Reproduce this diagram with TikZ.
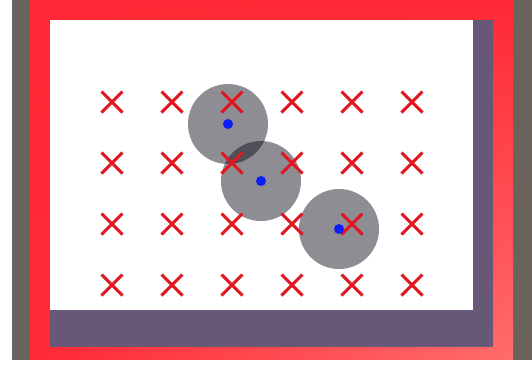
\documentclass[tikz,border=0pt]{standalone}
\usepackage{tikz}
\usetikzlibrary{shapes.misc,shadings}

\definecolor{wallgray}{RGB}{106,99,93}
\definecolor{framered}{RGB}{255,40,52}
\definecolor{framelight}{RGB}{255,108,108}
\definecolor{shadowpurple}{RGB}{102,88,118}
\definecolor{markred}{RGB}{225,22,30}
\definecolor{dotblue}{RGB}{10,30,245}

\begin{document}
\begin{tikzpicture}[
    x=0.02cm,
    y=-0.02cm,
    sample/.style={
        cross out, draw=markred,
        line width=3*0.02cm,
        inner sep=0pt,
        minimum size=18*0.02cm
    },
    blob/.style={
        circle,
        fill={rgb,255:red,8;green,8;blue,20},
        fill opacity=0.46,
        inner sep=0pt,
        minimum size=80*0.02cm
    },
    centre/.style={
        circle, fill=dotblue,
        inner sep=0pt,
        minimum size=10*0.02cm
    }
]
\useasboundingbox (0,0) rectangle (532,369);

% frame
\fill[wallgray] (12,0) rectangle (532,360);
\shade[upper left=framered, upper right=framered,
       lower left=framered, lower right=framelight] (30,0) rectangle (513,359);
\fill[shadowpurple] (50,20) rectangle (493,347);
\fill[white] (50,20) rectangle (473,310);

% covered regions
\node[blob] (b1) at (228,124) {};
\node[blob] (b2) at (261,181) {};
\node[blob] (b3) at (339,229) {};

% sample grid
\node[sample] (x11) at (112,102) {};
\node[sample] (x12) at (172,102) {};
\node[sample] (x13) at (232,102) {};
\node[sample] (x14) at (292,102) {};
\node[sample] (x15) at (352,102) {};
\node[sample] (x16) at (412,102) {};

\node[sample] (x21) at (112,163) {};
\node[sample] (x22) at (172,163) {};
\node[sample] (x23) at (232,163) {};
\node[sample] (x24) at (292,163) {};
\node[sample] (x25) at (352,163) {};
\node[sample] (x26) at (412,163) {};

\node[sample] (x31) at (112,224) {};
\node[sample] (x32) at (172,224) {};
\node[sample] (x33) at (232,224) {};
\node[sample] (x34) at (292,224) {};
\node[sample] (x35) at (352,224) {};
\node[sample] (x36) at (412,224) {};

\node[sample] (x41) at (112,285) {};
\node[sample] (x42) at (172,285) {};
\node[sample] (x43) at (232,285) {};
\node[sample] (x44) at (292,285) {};
\node[sample] (x45) at (352,285) {};
\node[sample] (x46) at (412,285) {};

% centres
\node[centre] (c1) at (b1.center) {};
\node[centre] (c2) at (b2.center) {};
\node[centre] (c3) at (b3.center) {};

\end{tikzpicture}
\end{document}
